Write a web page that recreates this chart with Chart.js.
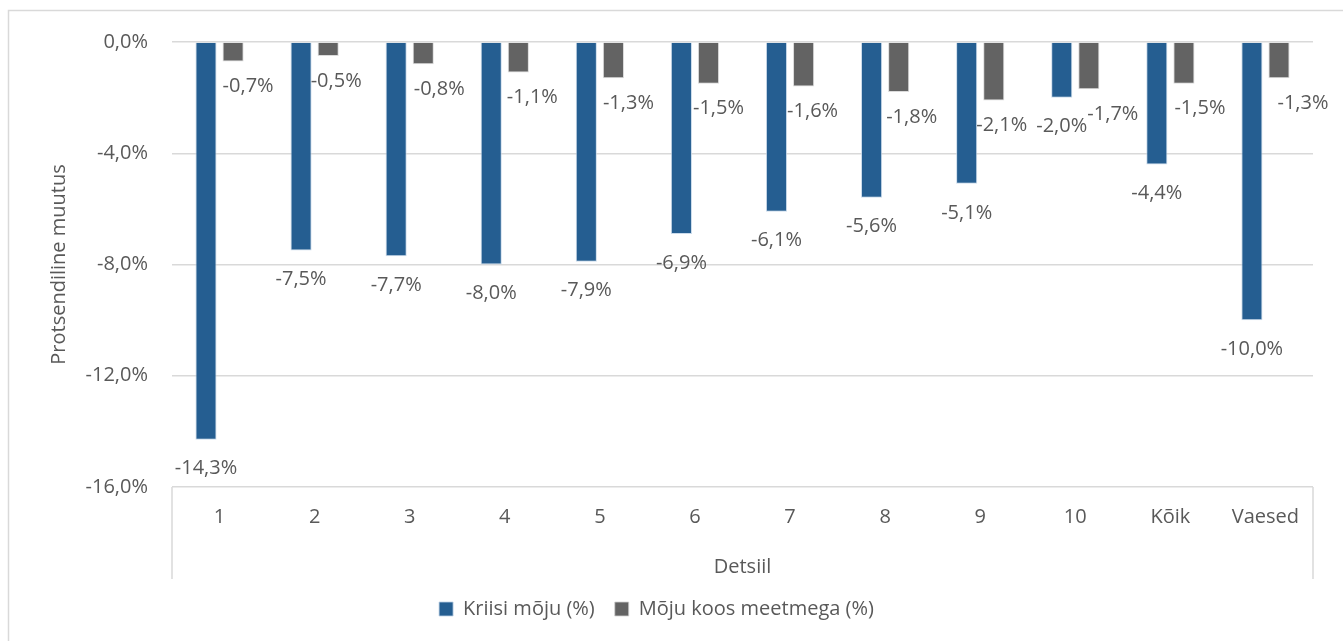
<!DOCTYPE html>
<html>
<head>
<meta charset="utf-8">
<script src="https://cdn.jsdelivr.net/npm/chart.js@4.4.1/dist/chart.umd.min.js"></script>
<style>
  html, body { margin: 0; padding: 0; background: #fff; }
  #wrap { width: 1343px; height: 641px; }
</style>
</head>
<body>
<div id="wrap"><canvas id="decChart" width="1343" height="641"></canvas></div>
<script>
// andmed
var categories = ["1", "2", "3", "4", "5", "6", "7", "8", "9", "10", "Kõik", "Vaesed"];
var kriisiMoju = [-14.3, -7.5, -7.7, -8.0, -7.9, -6.9, -6.1, -5.6, -5.1, -2.0, -4.4, -10.0];
var mojuMeetmega = [-0.7, -0.5, -0.8, -1.1, -1.3, -1.5, -1.6, -1.8, -2.1, -1.7, -1.5, -1.3];
var yTicks = [0, -4, -8, -12, -16];

// hallide siltide nihe paremale (käsitsi nihutatud nagu originaalis)
var greyLabelShift = [15, 8, 16, 14, 15, 10, 9, 13, 8, 24, 16, 24];

var txtColor = "#595959";
var fontFam = "'Open Sans', 'Noto Sans', sans-serif";
var fSize = 20;

function pct(v) {
	var s = Math.abs(v) < 0.0001 ? "0,0" : v.toFixed(1).replace(".", ",");
	return s + "%";
}

// raam ümber kogu joonise
var framePlugin = {
	id: "frame",
	beforeDraw: function(chart) {
		var c = chart.ctx;
		c.save();
		c.fillStyle = "#fff";
		c.fillRect(0, 0, chart.width, chart.height);
		c.strokeStyle = "#d9d9d9";
		c.lineWidth = 1.5;
		c.strokeRect(8.5, 10.5, chart.width - 5, chart.height + 20);
		c.restore();
	},
	afterDraw: function(chart) {
		var c = chart.ctx, a = chart.chartArea, xs = chart.scales.x;
		c.save();
		c.strokeStyle = "#d9d9d9";
		c.lineWidth = 1.5;
		c.beginPath();
		c.moveTo(a.left, a.bottom); c.lineTo(a.left, xs.bottom);
		c.moveTo(a.right, a.bottom); c.lineTo(a.right, xs.bottom);
		c.stroke();
		c.restore();
	}
};

// väärtuste sildid
var labelPlugin = {
	id: "barLabels",
	afterDatasetsDraw: function(chart) {
		var c = chart.ctx;
		c.save();
		c.font = fSize + "px " + fontFam;
		c.fillStyle = txtColor;
		c.textAlign = "center";
		c.textBaseline = "middle";
		chart.data.datasets.forEach(function(ds, i) {
			var meta = chart.getDatasetMeta(i);
			meta.data.forEach(function(bar, j) {
				var dx = i === 0 ? 0 : greyLabelShift[j];
				var dy = i === 0 ? 29 : 25;
				c.fillText(pct(ds.data[j]), bar.x + dx, bar.y + dy);
			});
		});
		c.restore();
	}
};

var conf_bar = {
	type: "bar",
	data: {
		labels: categories,
		datasets: [{
			label: "Kriisi mõju (%)",
			data: kriisiMoju,
			backgroundColor: "#255e91",
			borderColor: "rgba(190,210,230,0.8)",
			borderWidth: 1
		}, {
			label: "Mõju koos meetmega (%)",
			data: mojuMeetmega,
			backgroundColor: "#636363",
			borderColor: "rgba(210,210,210,0.8)",
			borderWidth: 1
		}]
	},
	options: {
		responsive: false,
		animation: false,
		devicePixelRatio: 1,
		categoryPercentage: 0.57,
		barPercentage: 0.78,
		layout: { padding: { top: 42, right: 30, left: 0, bottom: 12 } },
		plugins: {
			tooltip: { enabled: false },
			legend: {
				position: "bottom",
				labels: {
					boxWidth: 14,
					boxHeight: 14,
					padding: 20,
					color: txtColor,
					font: { family: fontFam, size: fSize }
				}
			}
		},
		scales: {
			x: {
				grid: { display: false },
				border: { display: false },
				ticks: { color: txtColor, font: { family: fontFam, size: fSize }, padding: 10 },
				title: {
					display: true,
					text: "Detsiil",
					color: txtColor,
					font: { family: fontFam, size: fSize },
					padding: { top: 22, bottom: 0 }
				},
				afterFit: function(s) { s.height = 92; }
			},
			y: {
				min: -16,
				max: 0,
				afterBuildTicks: function(s) {
					s.ticks = yTicks.map(function(v) { return { value: v }; });
				},
				grid: { color: "#d9d9d9", lineWidth: 1.5, drawTicks: false },
				border: { display: false },
				ticks: {
					color: txtColor,
					font: { family: fontFam, size: fSize },
					padding: 24,
					callback: function(v) { return pct(v); }
				},
				title: {
					display: true,
					text: "Protsendiline muutus",
					color: txtColor,
					font: { family: fontFam, size: fSize },
					padding: { top: 47, bottom: 0 }
				},
				afterFit: function(s) { s.width = 172; }
			}
		}
	},
	plugins: [framePlugin, labelPlugin]
};

var ctx = document.getElementById("decChart").getContext("2d");
var dec_chart = new Chart(ctx, conf_bar);
</script>
</body>
</html>
